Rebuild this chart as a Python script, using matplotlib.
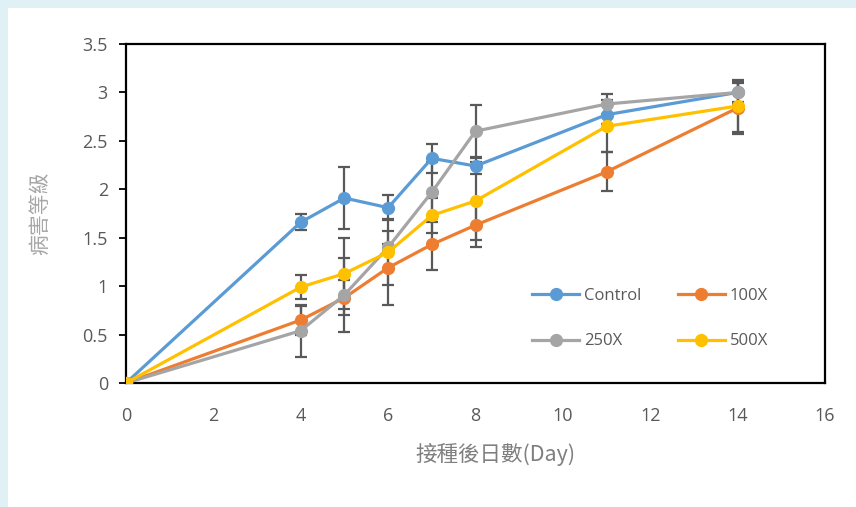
import numpy as np
from matplotlib import pyplot as plt
from matplotlib.patches import Rectangle

days = [0, 4, 5, 6, 7, 8, 11, 14]

control = [0, 1.66, 1.91, 1.81, 2.32, 2.24, 2.77, 3.00]
x100 = [0, 0.65, 0.88, 1.19, 1.43, 1.63, 2.18, 2.84]
x250 = [0, 0.54, 0.91, 1.40, 1.97, 2.60, 2.88, 3.00]
x500 = [0, 0.99, 1.13, 1.35, 1.73, 1.88, 2.65, 2.86]

controlErr = [0, 0.08, 0.32, 0.13, 0.15, 0.08, 0.10, 0.10]
x100Err = [0, 0.15, 0.18, 0.38, 0.26, 0.23, 0.20, 0.27]
x250Err = [0, 0.27, 0.38, 0.04, 0.31, 0.27, 0.10, 0.12]
x500Err = [0, 0.12, 0.37, 0.34, 0.18, 0.40, 0.27, 0.27]

names = ['Control', '100X', '250X', '500X']
colors = ['#5b9bd5', '#ed7d31', '#a5a5a5', '#ffc000']

W, H = 856, 507
fig = plt.figure(figsize=(W/100, H/100), dpi=100)
fig.patch.set_facecolor('white')
# light blue frame on the top and left edges
fig.patches.append(Rectangle((0, 0), 8/W, 1, transform=fig.transFigure,
                             facecolor='#dff1f5', edgecolor='none', zorder=-10))
fig.patches.append(Rectangle((0, (H-8)/H), 1, 8/H, transform=fig.transFigure,
                             facecolor='#dff1f5', edgecolor='none', zorder=-10))

ax = fig.add_axes([126/W, 1 - 383/H, (825-126)/W, (383-44)/H])
ax.set_facecolor('white')

series = [(control, controlErr), (x100, x100Err), (x250, x250Err), (x500, x500Err)]
for (vals, errs), name, c in zip(series, names, colors):
    ax.errorbar(days, vals, yerr=errs, fmt='none', ecolor='#595959',
                elinewidth=1.6, capsize=4, capthick=1.6, zorder=2)
lines = []
for (vals, errs), name, c in zip(series, names, colors):
    ln, = ax.plot(days, vals, '-o', color=c, lw=2.3, ms=8.5, label=name, zorder=3)
    lines.append(ln)

ax.set_xlim(0, 16)
ax.set_ylim(0, 3.5)
ax.set_xticks(np.arange(0, 17, 2))
ax.set_yticks(np.arange(0, 3.6, 0.5))
ax.set_yticklabels(['0', '0.5', '1', '1.5', '2', '2.5', '3', '3.5'])

for s in ax.spines.values():
    s.set_color('black')
    s.set_linewidth(1.6)

ax.tick_params(axis='x', length=0, pad=17, labelsize=13, labelcolor='#595959')
ax.tick_params(axis='y', length=5, width=1.3, color='black', pad=8,
               labelsize=13, labelcolor='#595959')
for lab in ax.get_xticklabels() + ax.get_yticklabels():
    lab.set_family(['Open Sans', 'DejaVu Sans'])

ax.set_xlabel('接種後日數(Day)', family=['Noto Sans CJK TC', 'DejaVu Sans'],
              fontsize=15.5, color='#7f7f7f')
ax.xaxis.set_label_coords((495-126)/(825-126), -(455-383)/(383-44))
ax.xaxis.label.set_va('center')
ax.set_ylabel('病害等級', family=['Noto Sans CJK TC', 'DejaVu Sans'],
              fontsize=15, color='#a6a6a6')
ax.yaxis.set_label_coords(-(126-40)/(825-126), 0.5)
ax.yaxis.label.set_va('center')

# row-wise legend: Control, 100X / 250X, 500X
order = [0, 2, 1, 3]
leg = ax.legend([lines[i] for i in order], [names[i] for i in order],
                ncol=2, loc='lower left', bbox_to_anchor=(0.56, 0.055),
                frameon=False, fontsize=12, handlelength=2.8,
                columnspacing=2.2, labelspacing=1.75, handletextpad=0.3)
for t in leg.get_texts():
    t.set_color('#595959')
    t.set_family(['Open Sans', 'DejaVu Sans'])

fig.savefig('out.png', dpi=100)
